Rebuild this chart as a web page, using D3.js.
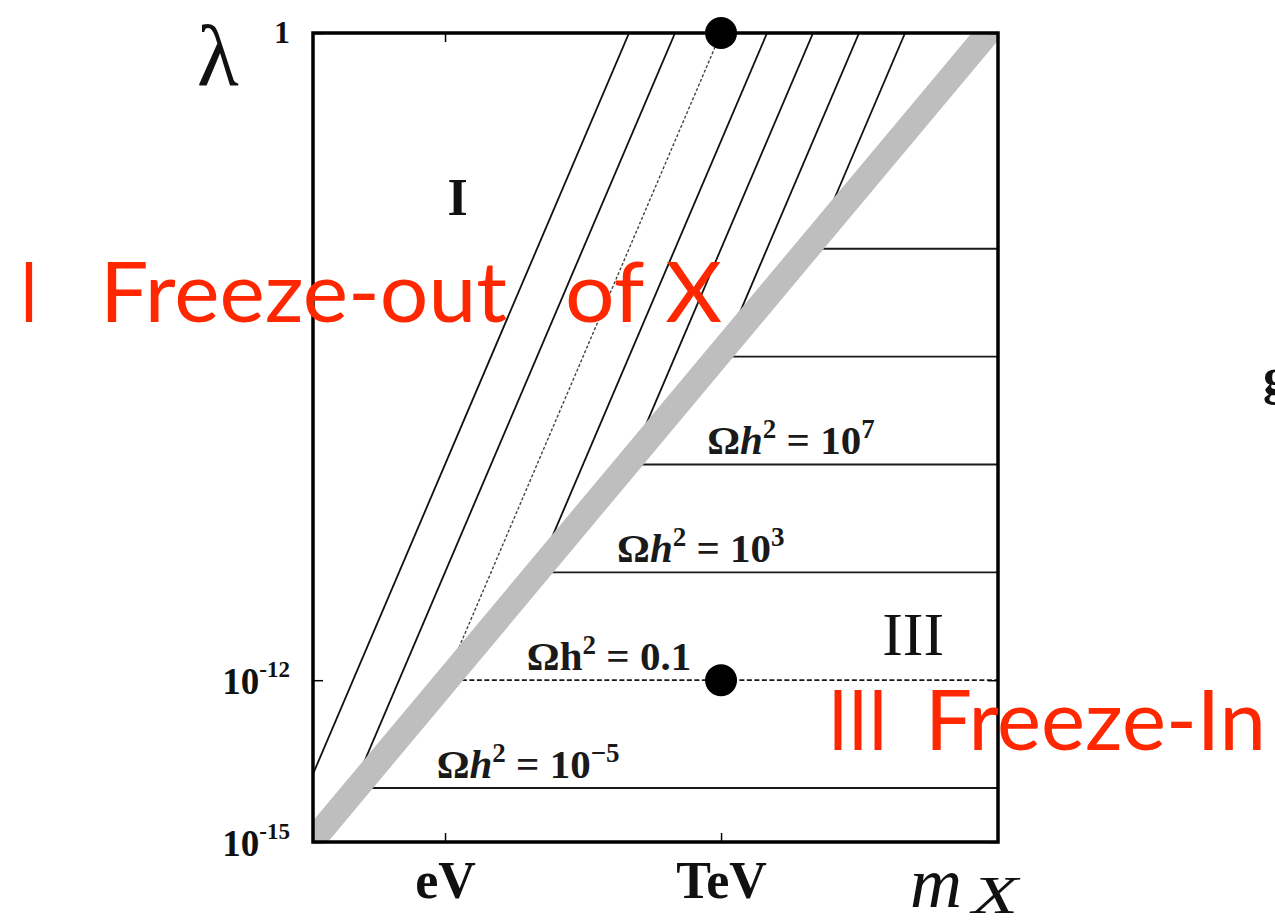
<!DOCTYPE html>
<html>
<head>
<meta charset="utf-8">
<script src="https://cdn.jsdelivr.net/npm/d3@7"></script>
<style>
  body { margin: 0; background: #fff; }
  svg { display: block; }
</style>
</head>
<body>
<svg id="chart" width="1275" height="922"></svg>
<script>
// ---- data -------------------------------------------------------------
// mass axis (GeV) ticks
const massTicks = [1e-9, 1e3];
const massTickLabels = ["eV", "TeV"];
// coupling axis ticks
const lambdaTicks = [1e-15, 1e-12, 1];
const lambdaTickBase = ["10", "10", "1"];
const lambdaTickExp = ["-15", "-12", ""];

// freeze-out contours (lambda proportional to m): mass at which each reaches lambda = 1
const freezeOutMass = [1e-1, 1e1, 1e3, 1e5, 1e7, 1e9, 1e11];
const freezeOutDashed = [false, false, true, false, false, false, false];

// freeze-in contours (constant lambda)
const freezeInLambda = [1e-14, 1e-12, 1e-10, 1e-8, 1e-6, 1e-4];
const freezeInDashed = [false, true, false, false, false, false];
const relicBase = ["10", "0.1", "10", "10", null, null];
const relicExp = ["\u22125", "", "3", "7", null, null];
const relicItalicH = [true, false, true, true, false, false];

// boundary band between the two regimes (two points on its centre line)
const bandMass = [Math.pow(10, -14.8), Math.pow(10, 14.6)];
const bandLambda = [1e-15, 1];

// benchmark points
const pointMass = [1e3, 1e3];
const pointLambda = [1, 1e-12];

// region labels
const regionText = ["I", "III"];
const regionMass = [Math.pow(10, -8.45), Math.pow(10, 11.35)];
const regionLambda = [Math.pow(10, -3.37), Math.pow(10, -11.53)];

// ---- layout -----------------------------------------------------------
const plot = { left: 313, right: 998, top: 33, bottom: 842 };
const svg = d3.select("#chart");
svg.append("rect").attr("width", 1275).attr("height", 922).attr("fill", "#fff");

const x = d3.scaleLog()
  .domain([Math.pow(10, -14.74), Math.pow(10, 15.04)])
  .range([plot.left, plot.right]);
const y = d3.scaleLog()
  .domain([1e-15, 1])
  .range([plot.bottom, plot.top]);

const serif = "'Liberation Serif', 'Times New Roman', serif";
const lg = Math.log10;

svg.append("defs").append("clipPath").attr("id", "plotClip")
  .append("rect")
  .attr("x", plot.left).attr("y", plot.top)
  .attr("width", plot.right - plot.left).attr("height", plot.bottom - plot.top);

const inner = svg.append("g").attr("clip-path", "url(#plotClip)");

// band centre line in log space
const b0m = lg(bandMass[0]), b0l = lg(bandLambda[0]);
const bandSlope = (lg(bandMass[1]) - b0m) / (lg(bandLambda[1]) - b0l);
const bandMassAt = l => Math.pow(10, b0m + (lg(l) - b0l) * bandSlope);

// freeze-in horizontal contours, starting at the band
freezeInLambda.forEach((l, i) => {
  inner.append("line")
    .attr("x1", x(bandMassAt(l))).attr("x2", x(x.domain()[1]))
    .attr("y1", y(l)).attr("y2", y(l))
    .attr("stroke", "#1a1a1a")
    .attr("stroke-width", freezeInDashed[i] ? 1.7 : 1.9)
    .attr("stroke-dasharray", freezeInDashed[i] ? "5,2.5" : null);
});

// freeze-out diagonal contours, ending at the band
freezeOutMass.forEach((m0, i) => {
  const logEnd = (b0m - b0l * bandSlope - lg(m0)) / (1 - bandSlope);
  const lEnd = Math.pow(10, logEnd);
  inner.append("line")
    .attr("x1", x(m0)).attr("y1", y(1))
    .attr("x2", x(m0 * lEnd)).attr("y2", y(lEnd))
    .attr("stroke", freezeOutDashed[i] ? "#444" : "#111")
    .attr("stroke-width", freezeOutDashed[i] ? 1.4 : 1.8)
    .attr("stroke-dasharray", freezeOutDashed[i] ? "3,2" : null);
});

// boundary band
const bandEnds = [1e-18, 1e3];
inner.append("line")
  .attr("x1", x(bandMassAt(bandEnds[0]))).attr("y1", y(bandEnds[0]))
  .attr("x2", x(bandMassAt(bandEnds[1]))).attr("y2", y(bandEnds[1]))
  .attr("stroke", "#bebebe")
  .attr("stroke-width", 25);

// frame
svg.append("rect")
  .attr("x", plot.left).attr("y", plot.top)
  .attr("width", plot.right - plot.left).attr("height", plot.bottom - plot.top)
  .attr("fill", "none").attr("stroke", "#000").attr("stroke-width", 3.5);

// axes (inward ticks)
const styleAxis = g => {
  g.select(".domain").remove();
  g.selectAll(".tick line").attr("stroke", "#000").attr("stroke-width", 1.5);
};
svg.append("g")
  .attr("transform", `translate(0,${plot.bottom})`)
  .call(d3.axisBottom(x).tickValues(massTicks).tickSizeInner(-9).tickSizeOuter(0)
    .tickFormat((d, i) => massTickLabels[i]))
  .call(styleAxis)
  .call(g => g.selectAll(".tick text")
    .attr("y", 56).attr("dy", null)
    .attr("font-family", serif).attr("font-weight", "bold")
    .attr("font-size", 52).attr("fill", "#111"));

svg.append("g")
  .attr("transform", `translate(0,${plot.top})`)
  .call(d3.axisTop(x).tickValues(massTicks).tickSizeInner(-9).tickSizeOuter(0).tickFormat(""))
  .call(styleAxis);

svg.append("g")
  .attr("transform", `translate(${plot.left},0)`)
  .call(d3.axisLeft(y).tickValues(lambdaTicks).tickSizeInner(-10).tickSizeOuter(0).tickFormat(""))
  .call(styleAxis);

svg.append("g")
  .attr("transform", `translate(${plot.right},0)`)
  .call(d3.axisRight(y).tickValues(lambdaTicks).tickSizeInner(-10).tickSizeOuter(0).tickFormat(""))
  .call(styleAxis);

// y tick labels with superscripts
lambdaTicks.forEach((v, i) => {
  const t = svg.append("text")
    .attr("x", 290)
    .attr("y", y(v) + (v === 1 ? 10 : 14))
    .attr("text-anchor", "end")
    .attr("font-family", serif).attr("font-weight", "bold")
    .attr("fill", "#111");
  if (lambdaTickExp[i]) {
    t.append("tspan").attr("font-size", 37).text(lambdaTickBase[i]);
    t.append("tspan").attr("font-size", 23).attr("dy", -17).text(lambdaTickExp[i]);
  } else {
    t.attr("font-size", 32).text(lambdaTickBase[i]);
  }
});

// axis titles
svg.append("text")
  .attr("x", 197).attr("y", 85)
  .attr("font-family", serif).attr("font-size", 86).attr("fill", "#111")
  .text("\u03bb");
svg.append("text")
  .attr("x", 910).attr("y", 907)
  .attr("font-family", serif).attr("font-style", "italic").attr("fill", "#111")
  .attr("font-size", 72).text("m");
svg.append("text")
  .attr("x", 972).attr("y", 913)
  .attr("font-family", serif).attr("font-style", "italic").attr("fill", "#111")
  .attr("font-size", 52)
  .attr("textLength", 46).attr("lengthAdjust", "spacingAndGlyphs")
  .text("X");

// relic abundance labels on the freeze-in contours
freezeInLambda.forEach((l, i) => {
  if (!relicBase[i]) return;
  const x0 = x(bandMassAt(l)) + 80;
  const t = svg.append("text")
    .attr("x", x0).attr("y", y(l) - 10)
    .attr("font-family", serif).attr("font-weight", "bold")
    .attr("font-size", 41).attr("fill", "#1a1a1a");
  t.append("tspan").text("\u03a9");
  t.append("tspan").attr("font-style", relicItalicH[i] ? "italic" : "normal").text("h");
  t.append("tspan").attr("font-size", 27).attr("dy", -16).text("2");
  t.append("tspan").attr("dy", 16).text(" = " + relicBase[i]);
  if (relicExp[i]) t.append("tspan").attr("font-size", 27).attr("dy", -16).text(relicExp[i]);
});

// region labels
regionText.forEach((s, i) => {
  svg.append("text")
    .attr("x", x(regionMass[i])).attr("y", y(regionLambda[i]))
    .attr("text-anchor", "middle")
    .attr("font-family", serif)
    .attr("font-weight", i === 0 ? "bold" : "normal")
    .attr("font-size", i === 0 ? 52 : 62)
    .attr("fill", "#111")
    .text(s);
});

// benchmark points
pointMass.forEach((m, i) => {
  svg.append("circle")
    .attr("cx", x(m)).attr("cy", y(pointLambda[i]))
    .attr("r", 16).attr("fill", "#000");
});

// regime annotations
const red = "#ff2700";
const ann = [
  { s: "I", x: 20, w: 18, y: 322 },
  { s: "Freeze-out", x: 100, w: 407, y: 322 },
  { s: "of X", x: 565, w: 157, y: 322 },
  { s: "III", x: 828, w: 60, y: 750 },
  { s: "Freeze-In", x: 925, w: 341, y: 750 }
];
ann.forEach(a => {
  svg.append("text")
    .attr("x", a.x).attr("y", a.y)
    .attr("font-family", "Lato, 'Open Sans', sans-serif")
    .attr("font-size", 84).attr("fill", red)
    .attr("textLength", a.w).attr("lengthAdjust", "spacingAndGlyphs")
    .text(a.s);
});

// edge glyph from neighbouring content
svg.append("text")
  .attr("x", 1263).attr("y", 394)
  .attr("font-family", serif).attr("font-weight", "bold")
  .attr("font-size", 52).attr("fill", "#111")
  .text("g");
</script>
</body>
</html>
